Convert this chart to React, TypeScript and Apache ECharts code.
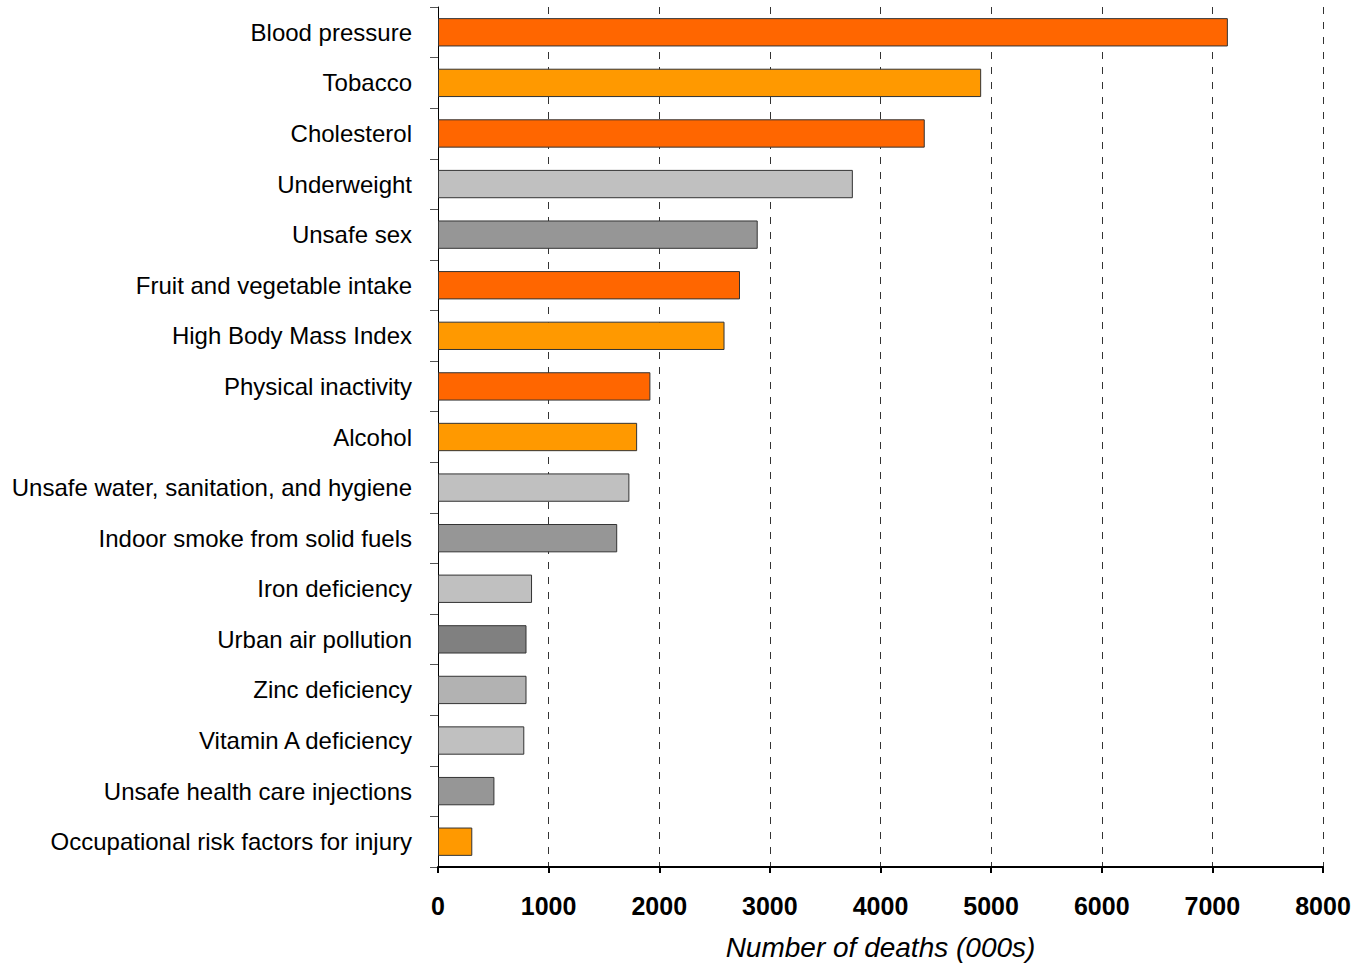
import React, { useEffect, useRef } from "react";
import * as echarts from "echarts";

const categories = [
  "Blood pressure",
  "Tobacco",
  "Cholesterol",
  "Underweight",
  "Unsafe sex",
  "Fruit and vegetable intake",
  "High Body Mass Index",
  "Physical inactivity",
  "Alcohol",
  "Unsafe water, sanitation, and hygiene",
  "Indoor smoke from solid fuels",
  "Iron deficiency",
  "Urban air pollution",
  "Zinc deficiency",
  "Vitamin A deficiency",
  "Unsafe health care injections",
  "Occupational risk factors for injury",
];

const deaths = [7140, 4910, 4400, 3750, 2890, 2730, 2590, 1920, 1800, 1730, 1620, 850, 800, 800, 780, 510, 310];

const barColors = [
  "#FF6600", "#FF9900", "#FF6600", "#C0C0C0", "#969696", "#FF6600", "#FF9900", "#FF6600",
  "#FF9900", "#C0C0C0", "#969696", "#C0C0C0", "#808080", "#B2B2B2", "#C0C0C0", "#969696", "#FF9900",
];

const axisName = "Number of deaths (000s)";

const sans = "Liberation Sans, Arial, sans-serif";

export default function App() {
  const ref = useRef<HTMLDivElement>(null);
  useEffect(() => {
    if (!ref.current) return;
    const chart = echarts.init(ref.current, null, { renderer: "svg" });
    chart.setOption({
      animation: false,
      backgroundColor: "#ffffff",
      grid: { left: 438, top: 7, right: 38, bottom: 98, containLabel: false, outerBoundsMode: "none" },
      xAxis: {
        type: "value",
        min: 0,
        max: 8000,
        interval: 1000,
        name: axisName,
        nameLocation: "middle",
        nameGap: 66,
        nameTextStyle: { fontFamily: sans, fontStyle: "italic", fontSize: 28, color: "#000" },
        axisLine: { show: true, lineStyle: { color: "#000", width: 2 } },
        axisTick: { show: true, length: 6, lineStyle: { color: "#000", width: 2 } },
        axisLabel: {
          fontFamily: sans,
          fontWeight: "bold",
          fontSize: 25,
          color: "#000",
          margin: 26,
          formatter: (v: number) => String(v),
        },
        splitLine: { show: true, lineStyle: { color: "#333", type: [7, 8], width: 1 } },
      },
      yAxis: {
        type: "category",
        data: categories,
        inverse: true,
        axisLine: { show: true, lineStyle: { color: "#000", width: 1 } },
        axisTick: { show: true, length: 8, lineStyle: { color: "#555" } },
        axisLabel: { fontFamily: sans, fontSize: 24, color: "#000", margin: 26 },
      },
      series: [
        {
          type: "bar",
          data: deaths.map((v, i) => ({ value: v, itemStyle: { color: barColors[i] } })),
          barCategoryGap: "44%",
          itemStyle: { borderColor: "#333", borderWidth: 1 },
        },
      ],
    });
    return () => chart.dispose();
  }, []);
  return (
    <div
      ref={ref}
      style={{ position: "fixed", left: 0, top: 0, width: 1361, height: 965, background: "#fff" }}
    />
  );
}
